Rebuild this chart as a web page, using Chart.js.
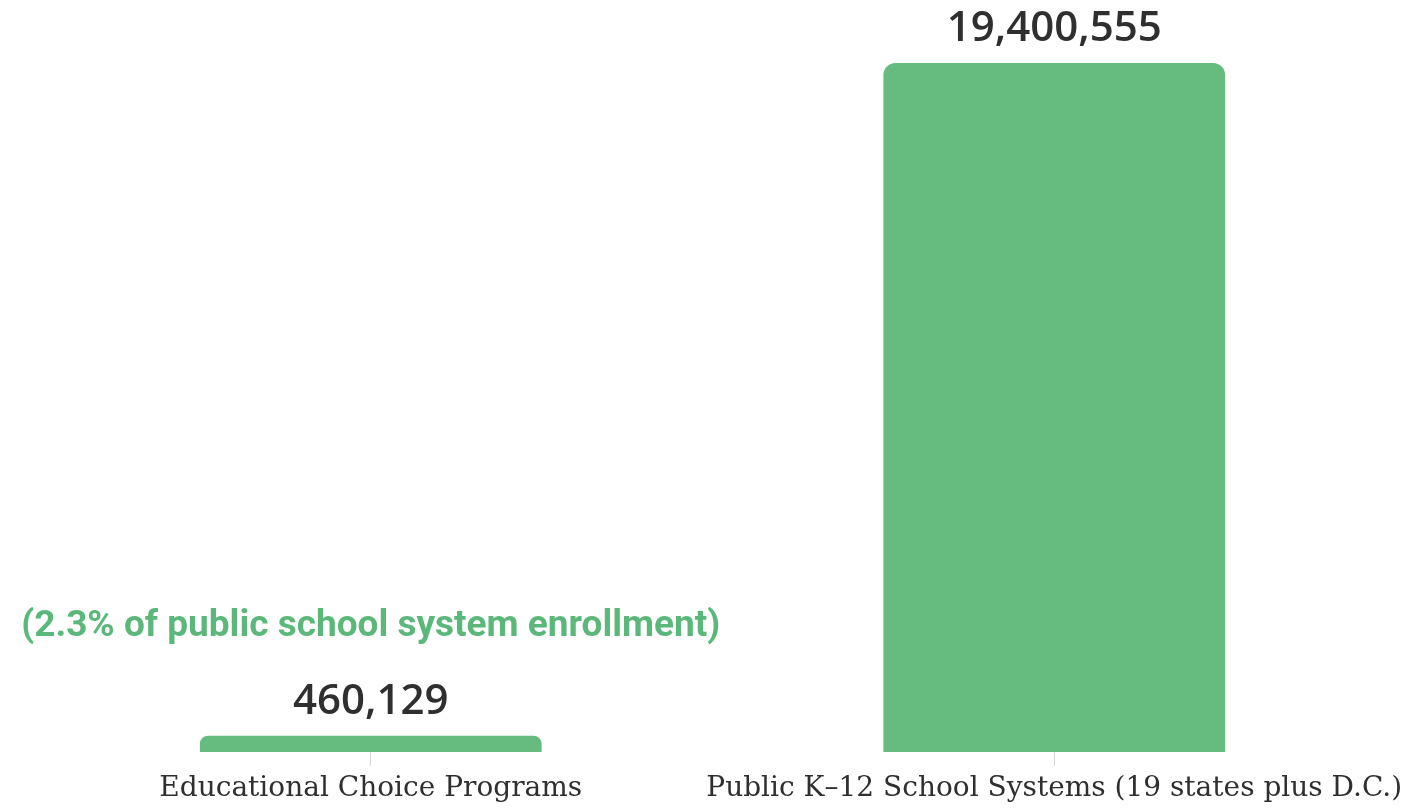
<!DOCTYPE html>
<html>
<head>
<meta charset="utf-8">
<script src="https://cdn.jsdelivr.net/npm/chart.js@4"></script>
<style>
  html, body { margin: 0; padding: 0; background: #fff; }
  #wrap { width: 1409px; height: 809px; }
</style>
</head>
<body>
<div id="wrap"><canvas id="enrollChart"></canvas></div>
<script>
// Data
const categories = ['Educational Choice Programs', 'Public K\u201312 School Systems (19 states plus D.C.)'];
const enrollment = [460129, 19400555];
const valueLabels = ['460,129', '19,400,555'];
const noteText = '(2.3% of public school system enrollment)';

const barGreen = '#66bc7f';

// Value labels + note above the bars
const labelPlugin = {
    id: 'valueLabels',
    afterDatasetsDraw(chart) {
        const ctx = chart.ctx;
        const bars = chart.getDatasetMeta(0).data;
        ctx.save();
        ctx.textAlign = 'center';
        ctx.textBaseline = 'alphabetic';
        bars.forEach((bar, i) => {
            ctx.fillStyle = '#2f2f2f';
            ctx.font = '600 42px "Open Sans"';
            ctx.fillText(valueLabels[i], bar.x, bar.y - 22);
        });
        ctx.fillStyle = '#5cb87a';
        ctx.font = 'bold 37px Roboto';
        ctx.fillText(noteText, bars[0].x, bars[0].y - 100);
        ctx.restore();
    }
};

const ctx = document.getElementById('enrollChart').getContext('2d');
const enrollChart = new Chart(ctx, {
    type: 'bar',
    data: {
        labels: categories,
        datasets: [{
            data: enrollment,
            backgroundColor: barGreen,
            borderRadius: { topLeft: 12, topRight: 12 },
            borderSkipped: 'bottom',
            barPercentage: 0.5,
            categoryPercentage: 1.0
        }]
    },
    options: {
        responsive: true,
        maintainAspectRatio: false,
        animation: false,
        layout: {
            padding: { top: 63, left: 29, right: 13, bottom: 0 }
        },
        plugins: {
            legend: { display: false },
            tooltip: { enabled: false }
        },
        scales: {
            x: {
                afterFit(scale) {
                    // keep the long right label from squeezing the plot
                    scale.paddingLeft = 0;
                    scale.paddingRight = 0;
                    scale.height = 57;
                },
                grid: {
                    offset: false,
                    drawOnChartArea: false,
                    drawTicks: true,
                    tickLength: 14,
                    color: '#d6d6d6'
                },
                border: { display: false },
                ticks: {
                    color: '#2f2f2f',
                    font: { family: '"DejaVu Serif"', size: 28 },
                    padding: 6,
                    autoSkip: false,
                    maxRotation: 0
                }
            },
            y: {
                display: false,
                min: 0,
                max: 19400555
            }
        }
    },
    plugins: [labelPlugin]
});
</script>
</body>
</html>
